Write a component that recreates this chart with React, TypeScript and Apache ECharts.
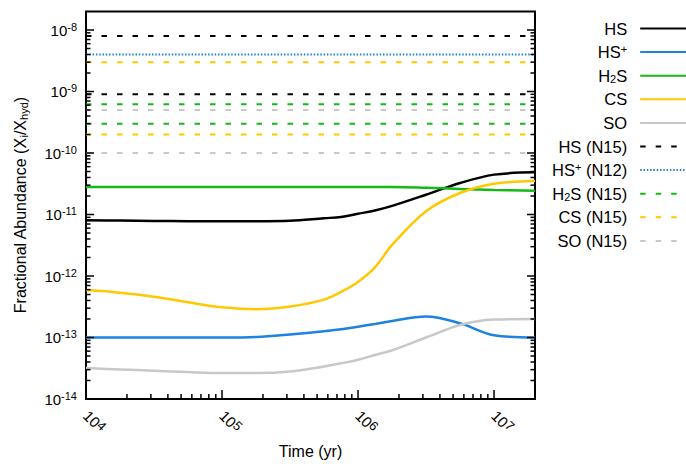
import React, { useEffect, useRef } from "react";
import * as echarts from "echarts";

// Time grid (yr)
const time = [1e4, 1.78e4, 3.16e4, 5.62e4, 1e5, 1.78e5, 3.16e5, 5.62e5, 7.5e5, 1e6, 1.33e6, 1.78e6, 3.16e6, 5.62e6, 1e7, 2e7];

// Model abundances
const hsValues = [8.05e-12, 7.96e-12, 7.87e-12, 7.8e-12, 7.77e-12, 7.77e-12, 7.9e-12, 8.7e-12, 9.1e-12, 1.03e-11, 1.16e-11, 1.38e-11, 2.1e-11, 3.25e-11, 4.45e-11, 4.85e-11];
const hspValues = [1.0e-13, 1.0e-13, 1.0e-13, 1.0e-13, 1.0e-13, 1.02e-13, 1.12e-13, 1.26e-13, 1.36e-13, 1.5e-13, 1.66e-13, 1.86e-13, 2.19e-13, 1.7e-13, 1.09e-13, 1.0e-13];
const h2sValues = [2.8e-11, 2.8e-11, 2.8e-11, 2.8e-11, 2.8e-11, 2.8e-11, 2.8e-11, 2.8e-11, 2.8e-11, 2.8e-11, 2.8e-11, 2.8e-11, 2.72e-11, 2.6e-11, 2.5e-11, 2.44e-11];
const csValues = [5.9e-13, 5.36e-13, 4.6e-13, 3.73e-13, 3.1e-13, 2.88e-13, 3.18e-13, 4.13e-13, 5.5e-13, 8.0e-13, 1.38e-12, 3.2e-12, 1.13e-11, 2.24e-11, 3.17e-11, 3.5e-11];
const soValues = [3.18e-14, 3.03e-14, 2.88e-14, 2.74e-14, 2.64e-14, 2.64e-14, 2.8e-14, 3.39e-14, 3.8e-14, 4.34e-14, 5.2e-14, 6.2e-14, 1.0e-13, 1.6e-13, 1.96e-13, 2.0e-13];

// Observed limits
const hsN15 = [8e-9, 9e-10];
const hspN12 = [4e-9];
const h2sN15 = [6.2e-10, 3e-10];
const csN15 = [3e-9, 2e-10];
const soN15 = [5e-10, 1e-10];

// Axis ranges and tick values
const xMin = 1e4;
const xMax = 2e7;
const yMin = 1e-14;
const yMax = 2e-8;
const xDecades = [4, 5, 6, 7];
const yDecades = [-14, -13, -12, -11, -10, -9, -8];
const minorMultipliers = [2, 3, 4, 5, 6, 7, 8, 9];

const legendNames = ["HS", "HS+", "H2S", "CS", "SO", "HS (N15)", "HS+ (N12)", "H2S (N15)", "CS (N15)", "SO (N15)"];

const COLORS = {
  black: "#000000",
  blue: "#1e82e0",
  green: "#14b914",
  yellow: "#ffc800",
  grey: "#c8c8c8",
};

const FONT = "'Liberation Sans', Arial, Helvetica, sans-serif";

function isPow10(v: number) {
  const l = Math.log10(v);
  return Math.abs(l - Math.round(l)) < 1e-6;
}

export default function App() {
  const ref = useRef<HTMLDivElement>(null);

  useEffect(() => {
    if (!ref.current) return;
    const chart = echarts.init(ref.current, undefined, { renderer: "svg" });

    const xMajor = xDecades.map((d) => Math.pow(10, d));
    const xMinor: number[] = [];
    xDecades.forEach((d) =>
      minorMultipliers.forEach((m) => {
        const v = m * Math.pow(10, d);
        if (v < xMax) xMinor.push(v);
      })
    );
    const yMajor = yDecades.map((d) => Math.pow(10, d));
    const yMinor: number[] = [];
    yDecades.forEach((d) =>
      minorMultipliers.forEach((m) => {
        const v = m * Math.pow(10, d);
        if (v < yMax) yMinor.push(v);
      })
    );

    const curve = (name: string, vals: number[], color: string) => ({
      type: "line",
      name,
      data: time.map((t, i) => [t, vals[i]]),
      symbol: "none",
      smooth: 0.35,
      lineStyle: { color, width: 2.5 },
      itemStyle: { color },
      z: 3,
    });

    const limit = (name: string, v: number, color: string, dash: number[], width = 2) => ({
      type: "line",
      name,
      data: [
        [xMin, v],
        [xMax, v],
      ],
      symbol: "none",
      lineStyle: { color, width, type: dash },
      itemStyle: { color },
      z: 2,
    });

    const dash = [5.5, 10];
    const dot = [1.5, 1.8];

    const limitSeries: any[] = [];
    hsN15.forEach((v) => limitSeries.push(limit("HS (N15)", v, COLORS.black, dash)));
    hspN12.forEach((v) => limitSeries.push(limit("HS+ (N12)", v, COLORS.blue, dot)));
    h2sN15.forEach((v) => limitSeries.push(limit("H2S (N15)", v, COLORS.green, dash)));
    csN15.forEach((v) => limitSeries.push(limit("CS (N15)", v, COLORS.yellow, dash)));
    soN15.forEach((v) => limitSeries.push(limit("SO (N15)", v, COLORS.grey, dash)));

    const xTickSeries = (vals: number[], len: number) => ({
      type: "custom",
      silent: true,
      clip: false,
      z: 10,
      data: vals.map((v) => [v, yMin]),
      renderItem: (_p: any, api: any) => {
        const p = api.coord([api.value(0), yMin]);
        return {
          type: "line",
          shape: { x1: p[0], y1: p[1], x2: p[0], y2: p[1] - len },
          style: { stroke: "#000", lineWidth: 1.5 },
        };
      },
    });

    const yTickSeries = (vals: number[], len: number) => ({
      type: "custom",
      silent: true,
      clip: false,
      z: 10,
      data: vals.map((v) => [xMin, v]),
      renderItem: (_p: any, api: any) => {
        const l = api.coord([xMin, api.value(1)]);
        const r = api.coord([xMax, api.value(1)]);
        return {
          type: "group",
          children: [
            { type: "line", shape: { x1: l[0], y1: l[1], x2: l[0] + len, y2: l[1] }, style: { stroke: "#000", lineWidth: 1.5 } },
            { type: "line", shape: { x1: r[0], y1: r[1], x2: r[0] - len, y2: r[1] }, style: { stroke: "#000", lineWidth: 1.5 } },
          ],
        };
      },
    });

    const fmtName = (name: string) => name.replace("HS+", "HS{sup|+}").replace("H2S", "H{sub|2}S");

    const option: any = {
      animation: false,
      backgroundColor: "#fff",
      textStyle: { fontFamily: FONT },
      grid: {
        left: 86,
        right: 151,
        top: 11.5,
        bottom: 64,
        show: true,
        borderColor: "#000",
        borderWidth: 2,
        backgroundColor: "transparent",
      },
      legend: {
        orient: "vertical",
        left: 547,
        top: 14.5,
        align: "right",
        itemWidth: 55,
        itemHeight: 14,
        itemGap: 5.6,
        selectedMode: false,
        data: legendNames,
        formatter: fmtName,
        itemStyle: { opacity: 0, borderWidth: 0 },
        textStyle: {
          fontFamily: FONT,
          fontSize: 16.5,
          color: "#000",
          lineHeight: 18,
          padding: [0, 8, 0, 0],
          rich: {
            sup: { fontFamily: FONT, fontSize: 11, color: "#000", lineHeight: 11, verticalAlign: "top" },
            sub: { fontFamily: FONT, fontSize: 11, color: "#000", lineHeight: 11, verticalAlign: "bottom" },
          },
        },
      },
      xAxis: {
        type: "log",
        logBase: 10,
        min: xMin,
        max: xMax,
        name: "Time (yr)",
        nameLocation: "middle",
        nameGap: 44,
        nameTextStyle: { fontFamily: FONT, fontSize: 16, color: "#000" },
        axisLine: { show: false },
        axisTick: { show: false },
        splitLine: { show: false },
        minorTick: { show: false },
        axisLabel: {
          rotate: -45,
          margin: 14,
          fontFamily: FONT,
          fontSize: 15,
          color: "#000",
          lineHeight: 17,
          formatter: (v: number) => (isPow10(v) ? `10{sup|${Math.round(Math.log10(v))}}` : ""),
          rich: {
            sup: { fontFamily: FONT, fontSize: 13, color: "#000", lineHeight: 13, verticalAlign: "top" },
          },
        },
      },
      yAxis: {
        type: "log",
        logBase: 10,
        min: yMin,
        max: yMax,
        name: "Fractional Abundance (X{sub|i}/X{sub|hyd})",
        nameLocation: "middle",
        nameGap: 57,
        nameTextStyle: {
          fontFamily: FONT,
          fontSize: 16,
          color: "#000",
          lineHeight: 18,
          rich: {
            sub: { fontFamily: FONT, fontSize: 11, color: "#000", lineHeight: 11, verticalAlign: "bottom" },
          },
        },
        axisLine: { show: false },
        axisTick: { show: false },
        splitLine: { show: false },
        axisLabel: {
          margin: 9,
          fontFamily: FONT,
          fontSize: 15,
          color: "#000",
          lineHeight: 18,
          formatter: (v: number) => (isPow10(v) ? `10{sup|${Math.round(Math.log10(v))}}` : ""),
          rich: {
            sup: { fontFamily: FONT, fontSize: 11, color: "#000", lineHeight: 11, verticalAlign: "top" },
          },
        },
      },
      series: [
        ...limitSeries,
        curve("HS", hsValues, COLORS.black),
        curve("HS+", hspValues, COLORS.blue),
        curve("H2S", h2sValues, COLORS.green),
        curve("CS", csValues, COLORS.yellow),
        curve("SO", soValues, COLORS.grey),
        xTickSeries(xMajor, 9),
        xTickSeries(xMinor, 5),
        yTickSeries(yMajor, 8),
        yTickSeries(yMinor, 4.5),
      ],
    };

    chart.setOption(option);
    return () => chart.dispose();
  }, []);

  return (
    <div
      ref={ref}
      style={{ position: "fixed", left: 0, top: 0, width: 686, height: 464, background: "#fff" }}
    />
  );
}
